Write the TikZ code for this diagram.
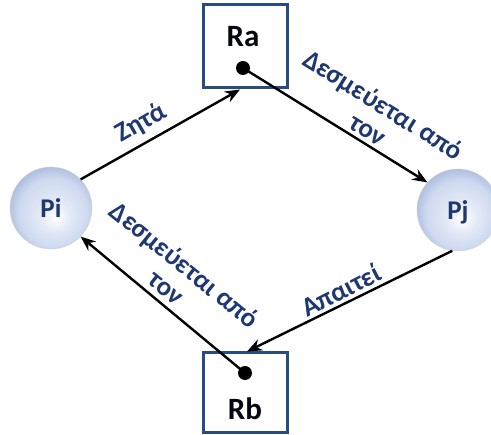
\documentclass[tikz,border=0pt]{standalone}
\usepackage{fontspec}
\setmainfont{Carlito}
\usetikzlibrary{arrows.meta}
\definecolor{navy}{RGB}{31,56,112}
\definecolor{boxblue}{RGB}{41,76,128}
\definecolor{bubbleedge}{RGB}{160,178,214}
\definecolor{bubblemid}{RGB}{206,217,240}
% glossy bubble used for the process nodes
\pgfdeclareradialshading{bubble}{\pgfpoint{3bp}{-6bp}}{%
  color(0bp)=(white);
  color(9bp)=(bubblemid!55!white);
  color(21bp)=(bubblemid);
  color(30bp)=(bubbleedge);
  color(40bp)=(bubbleedge)}
\begin{document}
\begin{tikzpicture}[x=1pt,y=-1pt,
  res/.style={draw=boxblue, line width=3pt, fill=white,
    minimum width=84pt, inner sep=0pt},
  proc/.style={circle, shading=bubble, draw=gray!35, line width=0.4pt,
    minimum size=82pt, inner sep=0pt, text=navy, text depth=0pt,
    font=\bfseries\fontsize{27}{30}\selectfont},
  dot/.style={circle, fill=black, minimum size=14pt, inner sep=0pt},
  rname/.style={font=\bfseries\fontsize{31}{34}\selectfont,
    text=black!85!navy, anchor=base, inner sep=0pt},
  elabel/.style={text=navy, font=\bfseries\fontsize{27}{29}\selectfont,
    align=center, inner sep=0pt},
  link/.style={line width=2.4pt, -{Stealth[length=15pt,width=12pt]}}
]
\useasboundingbox (0,0) rectangle (491,435);

% resources
\node[res, minimum height=83pt] (ra) at (245,46.5) {};
\node[rname] (ratext) at (243,47) {Ra};
\node[dot] (radot) at (243,68) {};

\node[res, minimum height=80pt] (rb) at (245,393) {};
\node[dot] (rbdot) at (245,373) {};
\node[rname] (rbtext) at (245,420) {Rb};

% processes
\node[proc] (pi) at (51,208) {Pi};
\node[proc] (pj) at (458,210) {Pj};

% requests and assignments
\draw[link] (pi.44) -- ([xshift=-5pt]ra.south);
\draw[link] (radot.center) -- (pj.138);
\draw[link] (pj.262) -- ([xshift=2pt]rb.north);
\draw[link] (rbdot.center) -- (pi.-44);

% edge labels
\node[elabel, rotate=30] (lreq) at (141,123) {Ζητά};
\node[elabel, rotate=-32] (lheld) at (376,117) {Δεσμεύεται από\\τον};
\node[elabel, rotate=27] (lneed) at (341,290) {Απαιτεί};
\node[elabel, rotate=-39] (lheldb) at (176,276) {Δεσμεύεται από\\τον};
\end{tikzpicture}
\end{document}
